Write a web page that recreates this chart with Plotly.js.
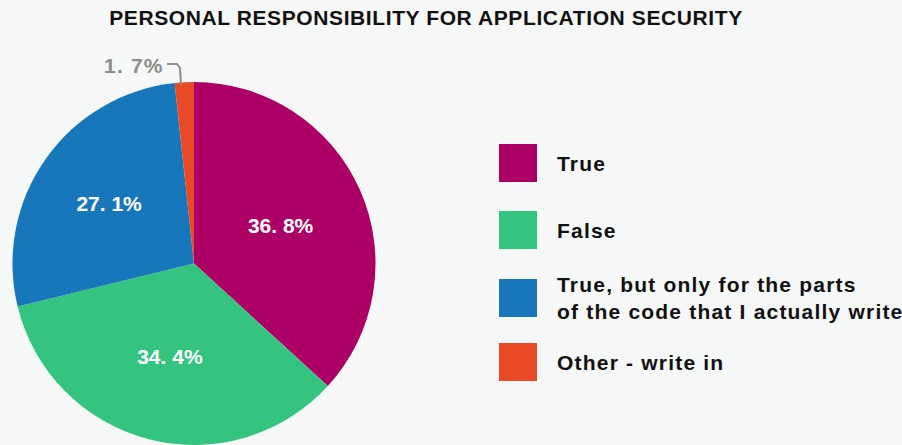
<!DOCTYPE html>
<html>
<head>
<meta charset="utf-8">
<script src="https://cdn.plot.ly/plotly-3.0.1.min.js"></script>
<style>
html,body{margin:0;padding:0;background:#f6f7f7;}
#chart{width:902px;height:445px;}
.gtitle{letter-spacing:0.6px;}
.annotation-text{letter-spacing:1.2px;}
</style>
</head>
<body>
<div id="chart"></div>
<script>
const labels = ["True", "False", "True, but only for the parts<br>of the code that I actually write", "Other - write in"];
const values = [36.8, 34.4, 27.1, 1.7];
const percentText = ["36. 8%", "34. 4%", "27. 1%", "1. 7%"];
const colors = ["#ad0066", "#34c47f", "#1877bb", "#e84a27"];
const textPositions = ["inside", "inside", "inside", "none"];

const W = 902, H = 445;
const px = x => x / W;
const py = y => 1 - y / H;
const FONT = "Liberation Sans, Arial, sans-serif";

const shapes = [];
const annotations = [];
const rowY = [163, 230, 298, 362];
labels.forEach((lab, i) => {
  const cy = rowY[i];
  shapes.push({type: "rect", xref: "paper", yref: "paper",
    x0: px(499), x1: px(537), y0: py(cy + 19), y1: py(cy - 19),
    fillcolor: colors[i], line: {width: 0}});
  annotations.push({xref: "paper", yref: "paper", x: px(555), y: py(cy),
    xanchor: "left", yanchor: "middle", align: "left", showarrow: false,
    text: "<b>" + lab + "</b>",
    font: {family: FONT, size: 21, color: "#111111"}});
});

// outside label for the small slice, with elbow leader line
annotations.push({xref: "paper", yref: "paper", x: px(166), y: py(65),
  xanchor: "right", yanchor: "middle", showarrow: false,
  text: "<b>" + percentText[3] + "</b>",
  font: {family: FONT, size: 21, color: "#8c8c8c"}});
shapes.push({type: "path", xref: "paper", yref: "paper",
  path: `M ${px(167)} ${py(64)} L ${px(177)} ${py(64)} L ${px(180)} ${py(68)} L ${px(181)} ${py(85)}`,
  line: {color: "#8c8c8c", width: 2}});

const data = [{
  type: "pie",
  labels: labels,
  values: values,
  text: percentText,
  sort: false,
  direction: "clockwise",
  rotation: 0,
  marker: {colors: colors, line: {width: 0}},
  texttemplate: "<b>%{text}</b>",
  textposition: textPositions,
  insidetextfont: {family: FONT, size: 21, color: "#ffffff"},
  insidetextorientation: "horizontal",
  showlegend: false,
  hoverinfo: "label+percent",
  domain: {x: [px(12), px(376)], y: [0, py(82)]}
}];

const layout = {
  width: W, height: H,
  margin: {l: 0, r: 0, t: 0, b: 0},
  paper_bgcolor: "#f6f7f7",
  plot_bgcolor: "#f6f7f7",
  title: {text: "<b>PERSONAL RESPONSIBILITY FOR APPLICATION SECURITY</b>",
    x: 426 / W, xanchor: "center", y: 1 - 18 / H, yanchor: "middle",
    font: {family: FONT, size: 21, color: "#111111"}},
  shapes: shapes,
  annotations: annotations
};

Plotly.newPlot("chart", data, layout, {displayModeBar: false, staticPlot: true});
</script>
</body>
</html>
